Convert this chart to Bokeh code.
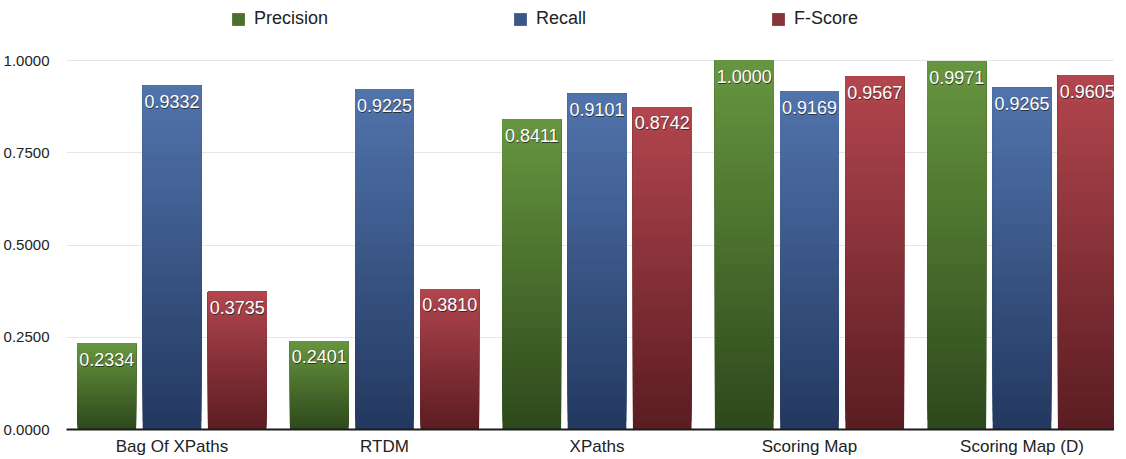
import numpy as np
from bokeh.plotting import figure
from bokeh.models import (FixedTicker, NumeralTickFormatter, Legend, LegendItem,
                          ColumnDataSource, Range1d)
from bokeh.core.properties import value
from bokeh.embed import file_html
from bokeh.resources import INLINE

# ---- data ----
methods = ["Bag Of XPaths", "RTDM", "XPaths", "Scoring Map", "Scoring Map (D)"]
precision = [0.2334, 0.2401, 0.8411, 1.0000, 0.9971]
recall = [0.9332, 0.9225, 0.9101, 0.9169, 0.9265]
fscore = [0.3735, 0.3810, 0.8742, 0.9567, 0.9605]
series_names = ["Precision", "Recall", "F-Score"]
y_ticks = [0.0, 0.25, 0.5, 0.75, 1.0]

# ---- style ----
FONT = "Liberation Sans"
top_colors = ["#67963f", "#5174ad", "#b3464e"]
bottom_colors = ["#2d481c", "#23385f", "#5a1c22"]
offsets = [-0.307, 0.0, 0.307]
bar_w = 0.276
N_SEG = 40


def hex_to_rgb(h):
    h = h.lstrip("#")
    return np.array([int(h[i:i + 2], 16) for i in (0, 2, 4)], dtype=float)


def mix(c0, c1, t):
    a, b = hex_to_rgb(c0), hex_to_rgb(c1)
    c = a + (b - a) * t
    return "#%02x%02x%02x" % tuple(int(round(v)) for v in c)


p = figure(frame_width=1048, frame_height=421, output_backend="svg",
           toolbar_location=None,
           x_range=Range1d(-0.4965, 4.4353), y_range=Range1d(0, 1.141),
           min_border_left=62, min_border_right=0, min_border_top=8,
           min_border_bottom=24)
p.outline_line_color = None
p.background_fill_color = "white"

series = [precision, recall, fscore]
xs_groups = np.arange(len(methods), dtype=float)
legend_items = []
for si, vals in enumerate(series):
    xs, bottoms, tops, colors = [], [], [], []
    for k in range(N_SEG):
        t = (k + 0.5) / N_SEG
        col = mix(bottom_colors[si], top_colors[si], t)
        for gi, v in enumerate(vals):
            xs.append(xs_groups[gi] + offsets[si])
            bottoms.append(v * k / N_SEG)
            tops.append(v)
            colors.append(col)
    src = ColumnDataSource(dict(x=xs, bottom=bottoms, top=tops, color=colors))
    r = p.vbar(x="x", bottom="bottom", top="top", width=bar_w, source=src,
               fill_color="color", line_color=None)
    mid_index = (N_SEG // 2) * len(vals)
    legend_items.append(LegendItem(label=series_names[si], renderers=[r],
                                   index=mid_index))

# value labels (shadow + white text)
for si, vals in enumerate(series):
    lx = [xs_groups[gi] + offsets[si] for gi in range(len(vals))]
    txt = ["%.4f" % v for v in vals]
    p.text(x=lx, y=vals, text=txt, y_offset=17, x_offset=0.6,
           text_align="center", text_baseline="alphabetic",
           text_font=value(FONT), text_font_size="18px",
           text_color="#1a1a1a", text_alpha=0.75)
    p.text(x=lx, y=vals, text=txt, y_offset=16,
           text_align="center", text_baseline="alphabetic",
           text_font=value(FONT), text_font_size="18px",
           text_color="white")

# axes
p.xaxis.ticker = FixedTicker(ticks=list(xs_groups))
p.xaxis.major_label_overrides = {float(i): m for i, m in enumerate(methods)}
p.xaxis.major_label_overrides.update({int(i): m for i, m in enumerate(methods)})
p.xaxis.major_tick_line_color = None
p.xaxis.minor_tick_line_color = None
p.xaxis.axis_line_color = "#1a1a1a"
p.xaxis.axis_line_width = 2
p.xaxis.major_label_text_font = FONT
p.xaxis.major_label_text_font_size = "17px"
p.xaxis.major_label_text_color = "#222222"
p.xaxis.major_label_standoff = 1

p.yaxis.ticker = FixedTicker(ticks=y_ticks)
p.yaxis.formatter = NumeralTickFormatter(format="0.0000")
p.yaxis.axis_line_color = None
p.yaxis.major_tick_line_color = None
p.yaxis.minor_tick_line_color = None
p.yaxis.major_label_text_font = FONT
p.yaxis.major_label_text_font_size = "15px"
p.yaxis.major_label_text_color = "#222222"
p.yaxis.major_label_standoff = 11

p.xgrid.grid_line_color = None
p.ygrid.grid_line_color = "#e6e6e6"
p.ygrid.grid_line_width = 1

legend = Legend(items=legend_items, orientation="horizontal",
                location=(164, 400), glyph_width=16, glyph_height=16,
                label_standoff=8, spacing=184, padding=0, margin=0,
                label_text_font=FONT, label_text_font_size="18px",
                label_text_color="#222222",
                background_fill_alpha=0, border_line_color=None)
p.add_layout(legend)

open("out.html", "w").write(file_html(p, INLINE))
